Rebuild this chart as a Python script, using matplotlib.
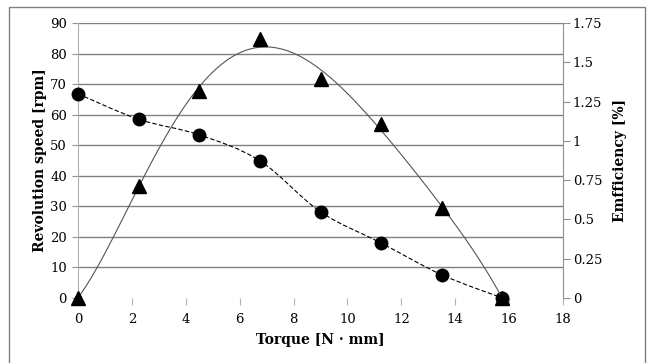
import numpy as np
import matplotlib
matplotlib.use('Agg')
from matplotlib import pyplot as plt
from matplotlib.patches import Rectangle, PathPatch
from matplotlib.path import Path
from matplotlib.ticker import FuncFormatter

# data
torque = [0, 2.25, 4.5, 6.75, 9, 11.25, 13.5, 15.75]
speed = [66.8, 58.5, 53.4, 44.9, 28.2, 18.0, 7.6, 0]
efficiency = [0, 0.715, 1.315, 1.65, 1.395, 1.105, 0.57, 0]

x_ticks = [0, 2, 4, 6, 8, 10, 12, 14, 16, 18]
left_ticks = [0, 10, 20, 30, 40, 50, 60, 70, 80, 90]
right_ticks = [0, 0.25, 0.5, 0.75, 1, 1.25, 1.5, 1.75]

plt.rcParams['font.family'] = ['DejaVu Serif']


def smooth_path(xs, ys):
    # bezier through the points, like a spreadsheet "smoothed line"
    pts = np.column_stack([xs, ys]).astype(float)
    verts = [pts[0]]
    codes = [Path.MOVETO]
    n = len(pts)
    for i in range(n - 1):
        p0 = pts[i - 1] if i > 0 else pts[i]
        p1 = pts[i]
        p2 = pts[i + 1]
        p3 = pts[i + 2] if i + 2 < n else pts[i + 1]
        c1 = p1 + (p2 - p0) / 6
        c2 = p2 - (p3 - p1) / 6
        verts += [c1, c2, p2]
        codes += [Path.CURVE4] * 3
    return Path(verts, codes)


fig = plt.figure(figsize=(6.47, 3.63), dpi=100)
fig.patches.append(Rectangle((9 / 647, -0.1), 636 / 647, 1.1 - 7 / 363,
                             transform=fig.transFigure, fill=False,
                             edgecolor='#808080', linewidth=1))

ax = fig.add_axes([78 / 647, 1 - 298 / 363, 485 / 647, 275 / 363])
ax2 = ax.twinx()

ax.set_xlim(0, 18)
ax.set_ylim(0, 90)
ax2.set_ylim(0, 1.75)
ax.set_xticks(x_ticks)
ax.set_yticks(left_ticks)
ax2.set_yticks(right_ticks)
ax2.yaxis.set_major_formatter(FuncFormatter(lambda v, p: '%g' % v))

for y in left_ticks[1:]:
    ax.axhline(y, color='#808080', linewidth=1, zorder=0)

for a in (ax, ax2):
    for s in ('top', 'bottom'):
        a.spines[s].set_visible(False)
    a.spines['left'].set_color('#b0b0b0')
    a.spines['right'].set_color('#909090')
ax.spines['right'].set_visible(False)
ax2.spines['left'].set_visible(False)

ax.tick_params(axis='x', length=5, color='#b0b0b0', labelsize=9.5, pad=6)
ax.tick_params(axis='y', length=4, color='#909090', labelsize=9.5, pad=4)
ax2.tick_params(axis='y', length=5, color='#909090', labelsize=9.5, pad=2)

# efficiency: polynomial trendline + triangles
coef = np.polyfit(torque, efficiency, 5)
xx = np.linspace(0, 15.75, 200)
ax2.plot(xx, np.polyval(coef, xx), color='#555555', linewidth=0.8)
ax2.plot(torque, efficiency, linestyle='none', marker='^', markersize=9.5,
         color='black', clip_on=False)

# revolution speed: smoothed dashed line + circles
ax.add_patch(PathPatch(smooth_path(torque, speed), fill=False,
                       edgecolor='black', linewidth=0.8, linestyle=(0, (4, 2))))
ax.plot(torque, speed, linestyle='none', marker='o', markersize=9,
        color='black', clip_on=False, zorder=5)

ax.set_ylabel('Revolution speed [rpm]', fontsize=10, fontweight='bold',
              labelpad=2)
ax2.set_ylabel('Emfficiency [%]', fontsize=10, fontweight='bold', labelpad=8)
ax.set_xlabel('Torque [N · mm]', fontsize=10, fontweight='bold', labelpad=5)

plt.savefig('out.png', dpi=100)
